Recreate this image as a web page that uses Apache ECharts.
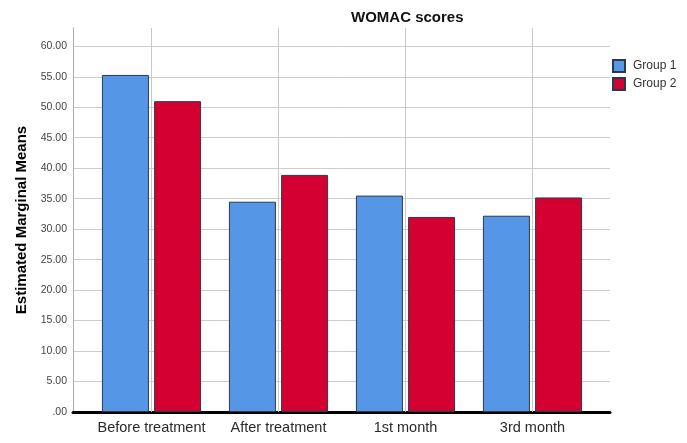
<!DOCTYPE html>
<html>
<head>
<meta charset="utf-8">
<script src="https://cdn.jsdelivr.net/npm/echarts@6/dist/echarts.min.js"></script>
<style>
html,body{margin:0;padding:0;background:#fff;}
#chart{width:687px;height:443px;}
</style>
</head>
<body>
<div id="chart"></div>
<script>
const categories = ['Before treatment', 'After treatment', '1st month', '3rd month'];
const group1 = [55.3, 34.5, 35.5, 32.2];
const group2 = [51.0, 38.9, 32.0, 35.2];
const seriesNames = ['Group 1', 'Group 2'];
const titleText = 'WOMAC scores';
const yTitle = 'Estimated Marginal Means';

const FONT = '"Liberation Sans", Arial, sans-serif';
const chart = echarts.init(document.getElementById('chart'), null, {renderer: 'canvas'});

const option = {
  backgroundColor: '#fff',
  animation: false,
  textStyle: {fontFamily: FONT},
  title: {
    text: titleText,
    left: 351, top: 10, padding: 0,
    textStyle: {fontFamily: FONT, fontSize: 15, fontWeight: 'bold', color: '#111'}
  },
  legend: {
    orient: 'vertical',
    left: 612, top: 59, padding: 0,
    itemWidth: 12, itemHeight: 12, itemGap: 4,
    icon: 'rect',
    data: seriesNames,
    textStyle: {fontFamily: FONT, fontSize: 12, color: '#333', padding: [0, 0, 0, 3]}
  },
  grid: [
    {left: 73, right: 77, top: 28, bottom: 31},
    {left: 88, right: 91, top: 28, bottom: 31}
  ],
  xAxis: [
    {
      gridIndex: 0, type: 'category', data: categories,
      axisLine: {show: true, lineStyle: {color: '#000', width: 3}},
      axisTick: {show: false}, axisLabel: {show: false}, splitLine: {show: false}
    },
    {
      gridIndex: 1, type: 'category', data: categories,
      axisLine: {show: false}, axisTick: {show: false},
      axisLabel: {fontFamily: FONT, fontSize: 14.5, color: '#2a2a2a', margin: 8, interval: 0},
      splitLine: {show: false}
    }
  ],
  yAxis: [
    {
      gridIndex: 0, type: 'value', min: 0, max: 63, interval: 5,
      name: yTitle, nameLocation: 'middle', nameRotate: 90, nameGap: 37,
      nameTextStyle: {fontFamily: FONT, fontSize: 15, fontWeight: 'bold', color: '#000'},
      axisLine: {show: true, lineStyle: {color: '#aaa', width: 1}},
      axisTick: {show: false},
      axisLabel: {
        fontFamily: FONT, fontSize: 10.5, color: '#444', margin: 6,
        showMaxLabel: false,
        formatter: function (v) { if (Math.abs(v % 5) > 1e-6) return ''; return v === 0 ? '.00' : v.toFixed(2); }
      },
      splitLine: {show: true, showMaxLine: false, lineStyle: {color: '#cdcdcd', width: 1}}
    },
    {
      gridIndex: 1, type: 'value', min: 0, max: 63, interval: 5, show: false,
      splitLine: {show: false}
    }
  ],
  series: [
    {
      name: 'vgrid', type: 'line', xAxisIndex: 1, yAxisIndex: 1,
      data: [], z: 1, silent: true,
      markLine: {
        silent: true, symbol: 'none', z: 1, animation: false,
        label: {show: false},
        lineStyle: {color: '#c8c8c8', type: 'solid', width: 1},
        data: categories.map(c => ({xAxis: c}))
      }
    },
    {
      name: seriesNames[0], type: 'bar', xAxisIndex: 1, yAxisIndex: 1,
      data: group1, barWidth: 47, barGap: '11%', z: 3,
      itemStyle: {color: '#5596e6', borderColor: '#2b3a4b', borderWidth: 1}
    },
    {
      name: seriesNames[1], type: 'bar', xAxisIndex: 1, yAxisIndex: 1,
      data: group2, barWidth: 47, barGap: '11%', z: 3,
      itemStyle: {color: '#d50032', borderColor: '#2b3a4b', borderWidth: 1}
    }
  ]
};
chart.setOption(option);
</script>
</body>
</html>
